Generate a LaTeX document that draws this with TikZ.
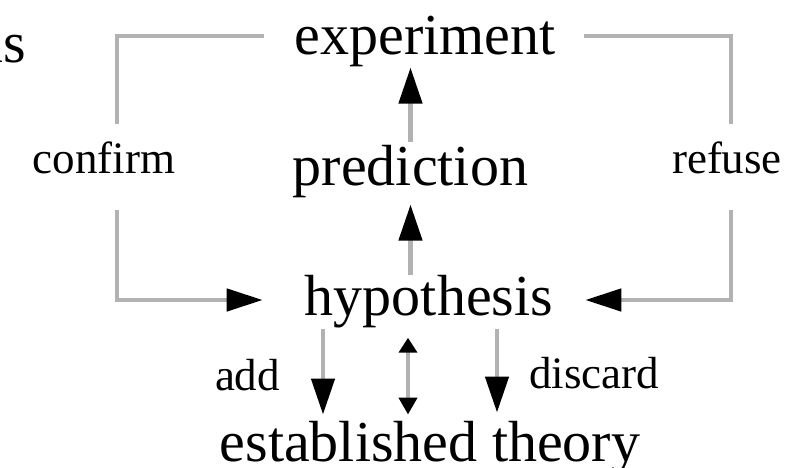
\documentclass[tikz,border=0pt]{standalone}
\usepackage{fontspec}
\setmainfont{Liberation Serif}
\usetikzlibrary{arrows.meta}
\definecolor{lgray}{RGB}{178,178,178}
\tikzset{
  big/.style={font=\fontsize{58}{60}\selectfont, inner sep=0pt, anchor=base},
  small/.style={font=\fontsize{45}{47}\selectfont, inner sep=0pt, anchor=base},
  gl/.style={draw=lgray, line width=4.5pt, line join=miter},
  harr/.style={-{Triangle[length=36pt,width=22pt,color=black]}},
  varr/.style={-{Triangle[length=36pt,width=23pt,color=black]}},
  darr/.style={{Triangle[length=15pt,width=18pt,color=black]}-{Triangle[length=17pt,width=18pt,color=black]}}
}
\begin{document}
\begin{tikzpicture}[x=1pt,y=-1pt]
\useasboundingbox (0,0) rectangle (804,467);
\node[big] (exp) at (425,54) {experiment};
\node[big] (pred) at (410.5,185) {prediction};
\node[big] (hyp) at (429,315) {hypothesis};
\node[big] (theory) at (430,461) {established theory};
\node[small] (confirm) at (104,173) {confirm};
\node[small] (refuse) at (727,173) {refuse};
\node[small] (add) at (247.5,390) {add};
\node[small] (discard) at (594,388) {discard};
\node[big,anchor=base east] (is) at (26,62) {is};
\coordinate (cTL) at (117,36);
\coordinate (cTR) at (731,36);
\coordinate (cBL) at (117,300);
\coordinate (cBR) at (731,300);
% loop back via confirm
\draw[gl] ([xshift=-30pt]exp.west |- cTL) -- (cTL) -- ([yshift=17pt]cTL |- confirm.north);
\draw[gl,harr] ([yshift=-37pt]cBL |- confirm.base) -- (cBL) -- ([xshift=-42pt]hyp.west |- cBL);
% loop back via refuse
\draw[gl] ([xshift=28pt]exp.east |- cTR) -- (cTR) -- ([yshift=17pt]cTR |- refuse.north);
\draw[gl,harr] ([yshift=-37pt]cBR |- refuse.base) -- (cBR) -- ([xshift=32pt]hyp.east |- cBR);
% vertical chain
\draw[gl,varr] ([yshift=3pt]pred.north) -- ([yshift=-1pt]pred.north |- exp.south);
\draw[gl,varr] (pred.south |- hyp.north) -- ([yshift=-7pt]pred.south);
% to established theory
\draw[gl,varr] ([xshift=-106pt,yshift=-1pt]hyp.south) -- ([xshift=-106pt,yshift=6pt]hyp.south |- theory.north);
\draw[gl,darr] ([xshift=-21pt,yshift=-10pt]hyp.south) -- ([xshift=-21pt,yshift=6pt]hyp.south |- theory.north);
\draw[gl,varr] ([xshift=68pt,yshift=-1pt]hyp.south) -- ([xshift=68pt,yshift=8pt]hyp.south |- theory.north);
\end{tikzpicture}
\end{document}
